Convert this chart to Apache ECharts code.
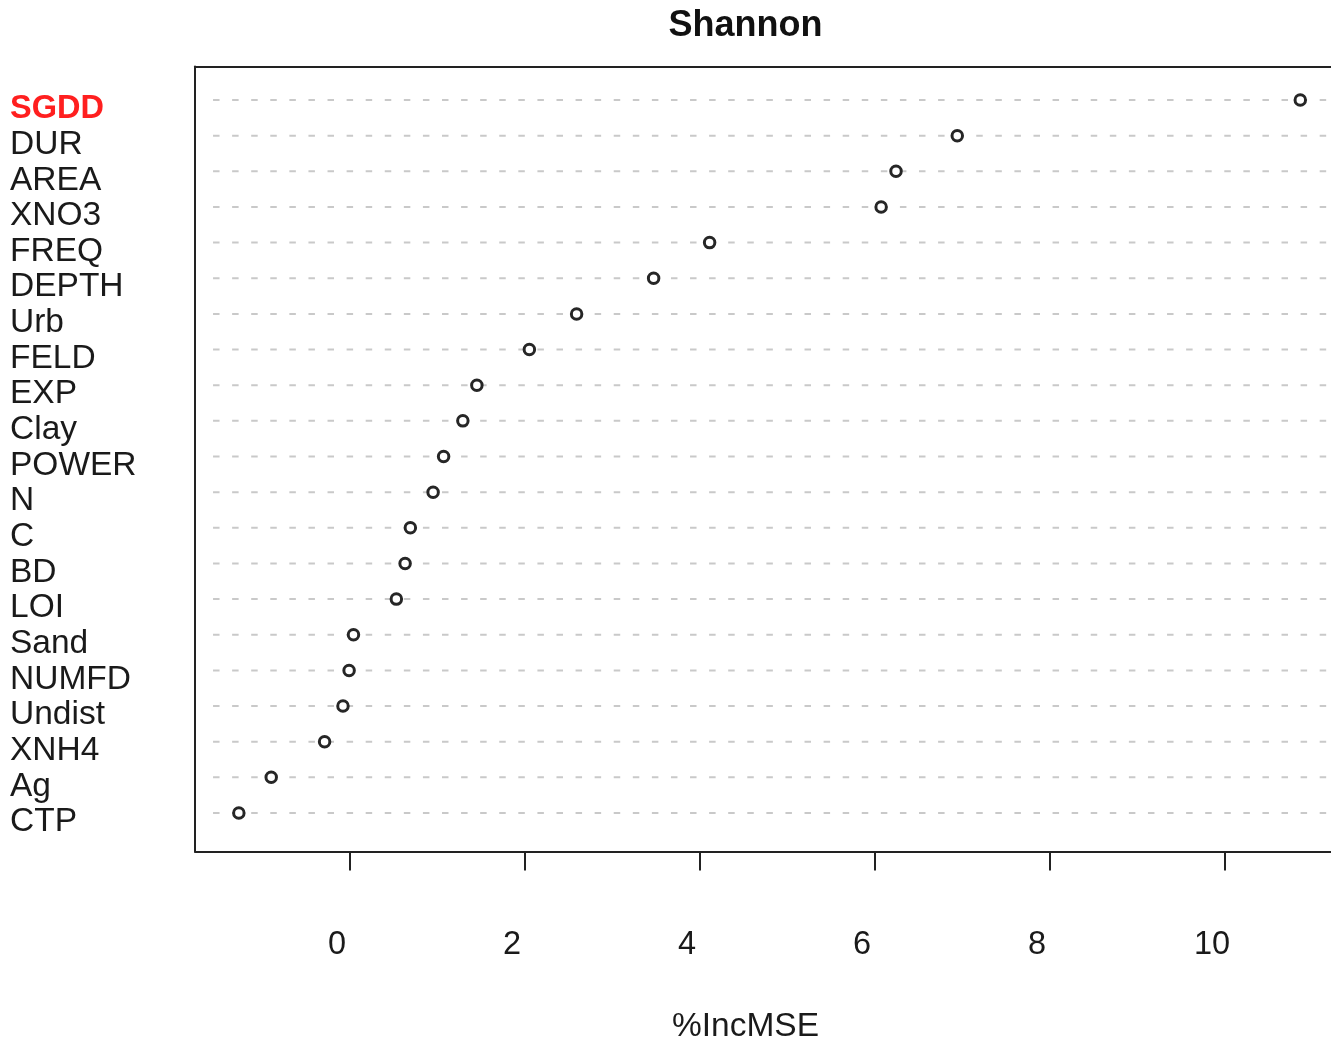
<!DOCTYPE html>
<html>
<head>
<meta charset="utf-8">
<script src="https://cdn.jsdelivr.net/npm/echarts@6/dist/echarts.min.js"></script>
<style>
html,body{margin:0;padding:0;background:#fff;overflow:hidden;}
#chart{width:1331px;height:1040px;}
</style>
</head>
<body>
<div id="chart"></div>
<script>
// Variables, top to bottom as shown
const categories = ['SGDD','DUR','AREA','XNO3','FREQ','DEPTH','Urb','FELD','EXP','Clay','POWER','N','C','BD','LOI','Sand','NUMFD','Undist','XNH4','Ag','CTP'];
// %IncMSE values
const incMSE = [10.86, 6.94, 6.24, 6.07, 4.11, 3.47, 2.59, 2.05, 1.45, 1.29, 1.07, 0.95, 0.69, 0.63, 0.53, 0.04, -0.01, -0.08, -0.29, -0.90, -1.27];
const xTicks = [0, 2, 4, 6, 8, 10];
const highlighted = ['SGDD'];

const n = categories.length;
const rowPos = categories.map((c, i) => n - i); // top row = n, bottom row = 1
const posToName = {};
rowPos.forEach((p, i) => { posToName[p] = categories[i]; });

const X_MIN = -1.771, X_MAX = 11.371;
const LINE_START = -1.70;

const points = incMSE.map((v, i) => [v, rowPos[i]]);
const guideData = [];
rowPos.forEach(p => {
  guideData.push([LINE_START, p]);
  guideData.push([X_MAX, p]);
  guideData.push(null);
});

const FONT = '"Liberation Sans", Arial, sans-serif';
const BOX = {color: '#222', width: 2};
const chart = echarts.init(document.getElementById('chart'), null, {renderer: 'canvas'});
chart.setOption({
  animation: false,
  backgroundColor: '#ffffff',
  title: {
    text: 'Shannon',
    left: 745.5,
    textAlign: 'center',
    top: 8,
    padding: 0,
    textStyle: {fontFamily: FONT, fontWeight: 'bold', fontSize: 36, color: '#111'}
  },
  grid: {
    left: 195, top: 66.5, width: 1150, height: 785,
    outerBoundsMode: 'none', containLabel: false,
    show: false
  },
  xAxis: [{
    type: 'value', min: X_MIN, max: X_MAX, position: 'bottom',
    axisLine: {show: true, onZero: false, lineStyle: BOX},
    splitLine: {show: false},
    axisTick: {show: true, customValues: xTicks, length: 19, inside: false, lineStyle: BOX},
    axisLabel: {
      customValues: xTicks, margin: 94, verticalAlign: 'middle',
      padding: [0, 26, 0, 0],
      fontFamily: FONT, fontSize: 32.5, color: '#1a1a1a'
    },
    name: '%IncMSE', nameLocation: 'middle', nameGap: 175,
    nameTextStyle: {fontFamily: FONT, fontSize: 33.5, color: '#1a1a1a', verticalAlign: 'middle', padding: [0, 49, 0, 0]}
  }, {
    type: 'value', min: X_MIN, max: X_MAX, position: 'top',
    axisLine: {show: true, onZero: false, lineStyle: BOX},
    axisTick: {show: false}, axisLabel: {show: false}, splitLine: {show: false}
  }],
  yAxis: {
    type: 'value', min: -0.08, max: 21.94, position: 'left',
    axisLine: {show: true, onZero: false, lineStyle: BOX},
    axisTick: {show: false},
    splitLine: {show: false},
    axisLabel: {
      customValues: rowPos, align: 'left', margin: 185,
      padding: [18, 0, 0, 0],
      fontFamily: FONT, fontSize: 33.5, color: '#1a1a1a',
      formatter: v => {
        const name = posToName[Math.round(v)] || '';
        return highlighted.indexOf(name) >= 0 ? '{r|' + name + '}' : name;
      },
      rich: {r: {color: '#ff1f1f', fontWeight: 'bold', fontSize: 32.5, fontFamily: FONT}}
    }
  },
  series: [
    {
      type: 'line', data: guideData, connectNulls: false, symbol: 'none', silent: true,
      lineStyle: {color: '#c9c9c9', width: 2, type: [6.5, 12.58], dashOffset: 7.25},
      z: 1
    },
    {
      type: 'scatter', data: points, symbol: 'circle', symbolSize: 10.5,
      itemStyle: {color: '#ffffff', borderColor: '#262626', borderWidth: 3, opacity: 1},
      z: 3
    }
  ]
});
</script>
</body>
</html>
